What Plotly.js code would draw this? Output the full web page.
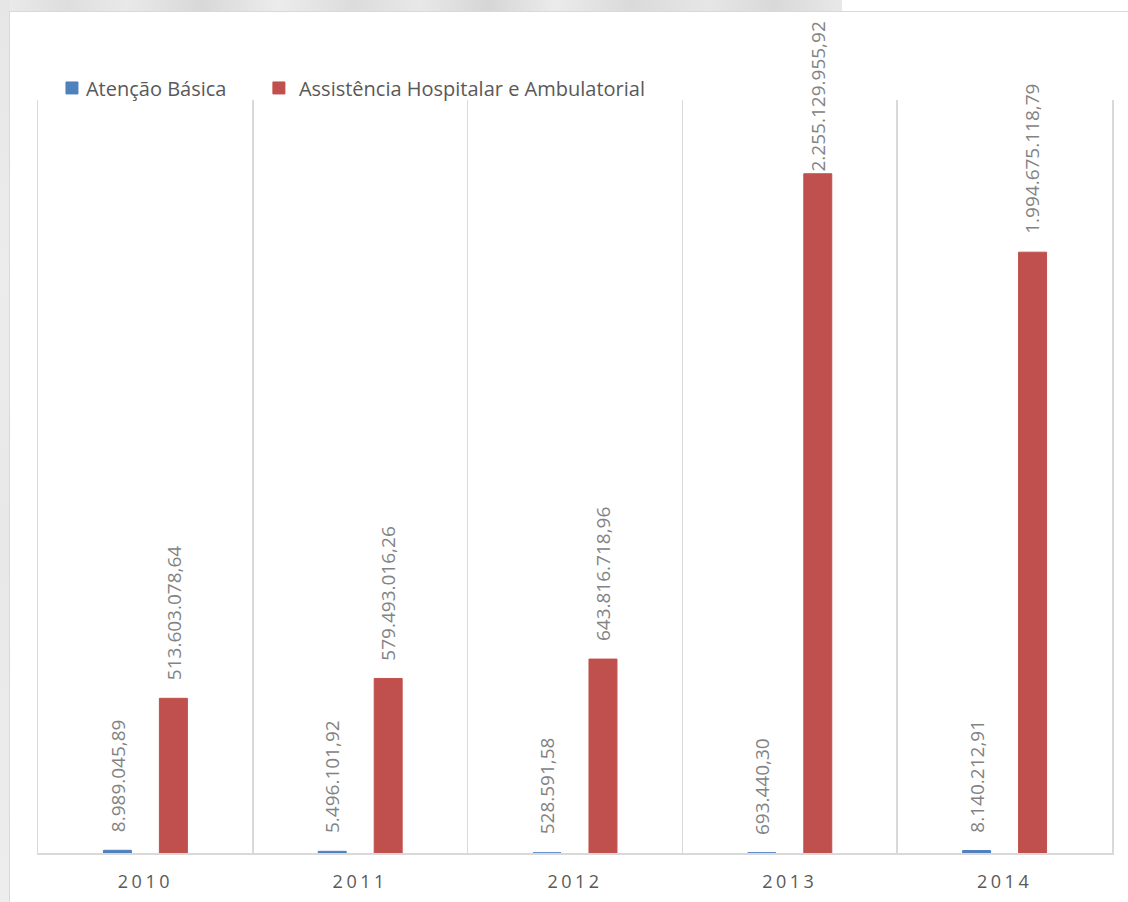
<!DOCTYPE html>
<html>
<head>
<meta charset="utf-8">
<script src="https://cdn.plot.ly/plotly-3.0.1.min.js"></script>
<style>
  html, body { margin: 0; padding: 0; background: #ffffff; }
  body { width: 1128px; height: 902px; position: relative; overflow: hidden; }
  /* soft grey backdrop visible around the chart frame */
  #backTop {
    position: absolute; left: 0; top: 0; width: 842px; height: 12px;
    background: linear-gradient(90deg, #ebebeb 0%, #dedede 8%, #e9e9e9 15%, #d8d8d8 24%, #ececec 33%,
      #dcdcdc 42%, #e8e8e8 50%, #d6d6d6 58%, #ebebeb 66%, #dadada 75%, #e6e6e6 84%, #d9d9d9 92%, #e8e8e8 100%);
  }
  #backLeft {
    position: absolute; left: 0; top: 0; width: 10px; height: 902px;
    background: linear-gradient(180deg, #e6e6e6 0%, #ececec 30%, #e8e8e8 60%, #ededed 100%);
  }
  #frame {
    position: absolute; left: 9px; top: 11px; width: 1140px; height: 920px;
    background: #ffffff; border: 1px solid #d9d9d9; box-sizing: border-box;
  }
  #chart { position: absolute; left: 0; top: 0; width: 1128px; height: 902px; }
  #chart .xtick text { letter-spacing: 3.5px; }
  /* legend text sits close to its swatch */
  #chart .legendtext { transform: translateX(-6px); }
</style>
</head>
<body>
<div id="backTop"></div>
<div id="backLeft"></div>
<div id="frame"></div>
<div id="chart"></div>
<script>
// Spending per year, in reais
const years = ['2010', '2011', '2012', '2013', '2014'];
const atencaoBasica = [8989045.89, 5496101.92, 528591.58, 693440.30, 8140212.91];
const assistenciaHospitalar = [513603078.64, 579493016.26, 643816718.96, 2255129955.92, 1994675118.79];
const seriesNames = ['Atenção Básica', 'Assistência Hospitalar e Ambulatorial'];
const seriesColors = ['#4f81bd', '#c0504d'];

// Brazilian number format: 1.234.567,89
function fmtBR(v) {
  const parts = v.toFixed(2).split('.');
  const intPart = parts[0].replace(/\B(?=(\d{3})+(?!\d))/g, '.');
  return intPart + ',' + parts[1];
}

const seriesValues = [atencaoBasica, assistenciaHospitalar];
const legendIds = ['legend', 'legend2'];

const traces = seriesValues.map((vals, i) => ({
  type: 'bar',
  name: seriesNames[i],
  x: years,
  y: vals,
  legend: legendIds[i],
  marker: { color: seriesColors[i], line: { color: seriesColors[i], width: 1 } },
  hoverinfo: 'x+y'
}));

// rotated value labels above each bar, offset to its slot within the group
// (x given as the category index so year strings aren't read as positions)
const slotShift = [-28, 28];
const labelGap = 16;
const annotations = [];
seriesValues.forEach((vals, i) => {
  vals.forEach((v, j) => {
    annotations.push({
      x: j, y: v, xref: 'x', yref: 'y',
      xshift: slotShift[i], yshift: labelGap,
      text: fmtBR(v), textangle: -90,
      showarrow: false, xanchor: 'center', yanchor: 'bottom',
      font: { family: 'Open Sans, sans-serif', size: 19, color: '#838383' }
    });
  });
});

const legendStyle = {
  orientation: 'h', xanchor: 'left', y: 1.016, yanchor: 'middle',
  font: { family: 'Open Sans, sans-serif', size: 20, color: '#595959' },
  bgcolor: 'rgba(0,0,0,0)', itemclick: false, itemdoubleclick: false
};

const layout = {
  width: 1128, height: 902,
  margin: { l: 38, r: 16, t: 100, b: 49, pad: 0 },
  paper_bgcolor: 'rgba(0,0,0,0)',
  plot_bgcolor: 'rgba(0,0,0,0)',
  barmode: 'group',
  bargap: 0.479,
  bargroupgap: 0.5,
  showlegend: true,
  legend: Object.assign({ x: 0.013 }, legendStyle),
  legend2: Object.assign({ x: 0.2057 }, legendStyle),
  xaxis: {
    type: 'category',
    range: [-0.5, years.length - 0.5],
    tickson: 'boundaries',
    showgrid: true, gridcolor: '#d9d9d9', gridwidth: 1.5,
    showline: true, linecolor: '#d9d9d9', linewidth: 1.5,
    ticks: '', ticklen: 0, ticklabelstandoff: 12,
    tickfont: { family: 'Open Sans, sans-serif', size: 18, color: '#595959' },
    fixedrange: true
  },
  yaxis: {
    range: [0, 2.5e9],
    showticklabels: false, ticks: '', showgrid: false, zeroline: false,
    showline: true, mirror: true, linecolor: '#d9d9d9', linewidth: 1.5,
    fixedrange: true
  },
  annotations: annotations
};

const gd = document.getElementById('chart');
Plotly.newPlot(gd, traces, layout, { displayModeBar: false, staticPlot: true }).then(() => {
  // keep value labels inside the chart frame: nudge down any that run past the top margin
  const topLimit = 20;
  const updates = {};
  gd.querySelectorAll('.annotation').forEach((el) => {
    const idx = +el.getAttribute('data-index');
    const box = el.getBoundingClientRect();
    if (box.top < topLimit) {
      updates['annotations[' + idx + '].yshift'] = labelGap - (topLimit - box.top);
    }
  });
  if (Object.keys(updates).length) Plotly.relayout(gd, updates);
});
</script>
</body>
</html>
